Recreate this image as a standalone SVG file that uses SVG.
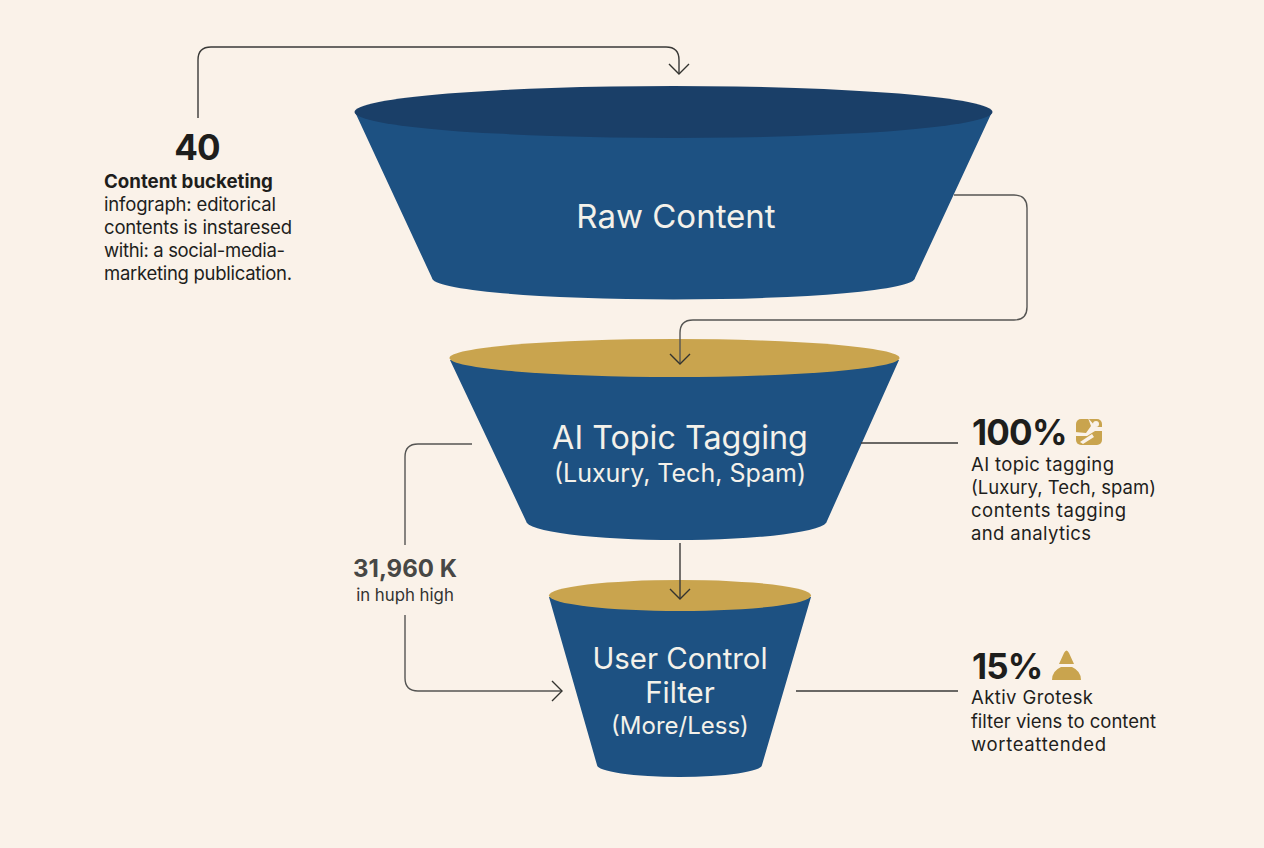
<svg xmlns="http://www.w3.org/2000/svg" width="1264" height="848" viewBox="0 0 1264 848">
<defs>
<marker id="arr" markerUnits="userSpaceOnUse" markerWidth="24" markerHeight="24" refX="12" refY="12" orient="auto"><path d="M2 2 L12 12 L2 22" fill="none" stroke="#33332f" stroke-width="1.4"/></marker>
</defs>
<style>
text{font-family:"Inter","Liberation Sans",sans-serif}
.c{fill:none;stroke:#3a3a38;stroke-width:1.4}
.g{fill:none;stroke:#555553;stroke-width:1.4}
.blue{fill:#1d5182}
.lab{fill:#f4f1ea;text-anchor:middle}
.num{fill:#1e1e1c;font-weight:700;font-size:35px;letter-spacing:-.8px}
.body{fill:#1e1e1c;font-size:18.5px}
.gold{fill:#c9a44e}
</style>
<rect width="1264" height="848" fill="#faf2e9"/>
<g id="node-raw">
<path class="blue" d="M355 112 L432 278 A241.500 21.500 0 0 0 915 278 L992 112 Z"/>
<ellipse cx="673.500" cy="112" rx="319" ry="26" fill="#1a3f68"/>
<text class="lab" x="676" y="228" font-size="33">Raw Content</text>
</g>
<g id="node-tag">
<path class="blue" d="M450 360 L526 521 A150.500 19 0 0 0 827 521 L899 360 Z"/>
<ellipse cx="674.500" cy="358" rx="225" ry="19" class="gold"/>
<text class="lab" x="680" y="449" font-size="32.300">AI Topic Tagging</text>
<text class="lab" x="680" y="482" font-size="25">(Luxury, Tech, Spam)</text>
</g>
<g id="node-filter">
<path class="blue" d="M549 597 L597 765 A82.500 12 0 0 0 762 765 L811 597 Z"/>
<ellipse cx="680" cy="595.500" rx="131" ry="15.500" class="gold"/>
<text class="lab" x="680" y="669" font-size="29.400">User Control</text>
<text class="lab" x="680" y="703" font-size="29.400">Filter</text>
<text class="lab" x="680" y="734" font-size="24">(More/Less)</text>
</g>
<g id="connectors">
<path class="c" d="M198 118 V60 Q198 47 211 47 H666 Q679 47 679 60 V74" marker-end="url(#arr)"/>
<path class="g" d="M954 195 H1014 Q1027 195 1027 208 V307 Q1027 320 1014 320 H693 Q680 320 680 333 V364" marker-end="url(#arr)"/>
<path class="c" d="M680 543 V599" marker-end="url(#arr)"/>
<path class="g" d="M472 444 H418 Q405 444 405 457 V545"/>
<path class="g" d="M405 615 V678 Q405 691 418 691 H562" marker-end="url(#arr)"/>
<path class="c" d="M861 443 H958"/>
<path class="c" d="M796 691 H958"/>
</g>
<g id="stat-40">
<text class="num" x="197" y="160" text-anchor="middle">40</text>
<text x="104" y="188" font-size="18.700" font-weight="700" fill="#1e1e1c">Content bucketing</text>
<text class="body" x="104" y="211" textLength="172">infograph: editorical</text>
<text class="body" x="104" y="234" textLength="188">contents is instaresed</text>
<text class="body" x="104" y="257" textLength="181">withi: a social-media-</text>
<text class="body" x="104" y="280" textLength="188">marketing publication.</text>
</g>
<g id="stat-31960">
<text x="405" y="577" text-anchor="middle" font-size="24" font-weight="700" fill="#474745">31,960 K</text>
<text x="405" y="601" text-anchor="middle" font-size="16.800" fill="#333331">in huph high</text>
</g>
<g id="stat-100">
<text class="num" x="972" y="445">100%</text>
<rect class="gold" x="1076" y="419" width="26" height="26" rx="5"/>
<path d="M1088 418 L1091 426 L1086 433 L1075 432 V436 L1087 436 L1095 431 L1103 431 V427 L1096 427 Z" fill="#faf2e9"/>
<circle cx="1096" cy="424" r="3" fill="#faf2e9"/>
<path d="M1080 442 L1092 434 L1094 437 L1083 444 Z" fill="#faf2e9"/>
<text class="body" x="971" y="471" textLength="143">AI topic tagging</text>
<text class="body" x="971" y="494" textLength="185">(Luxury, Tech, spam)</text>
<text class="body" x="971" y="517" textLength="155">contents tagging</text>
<text class="body" x="971" y="540" textLength="120">and analytics</text>
</g>
<g id="stat-15">
<text class="num" x="972" y="679">15%</text>
<path class="gold" d="M1064 653 Q1066.500 648 1069 653 L1074 664 H1059 Z M1061 667 H1072 Q1081 671 1081 680 H1052 Q1052 671 1061 667 Z"/>
<text class="body" x="971" y="704" textLength="122">Aktiv Grotesk</text>
<text class="body" x="971" y="728" textLength="185">filter viens to content</text>
<text class="body" x="971" y="751" textLength="135">worteattended</text>
</g>
</svg>
